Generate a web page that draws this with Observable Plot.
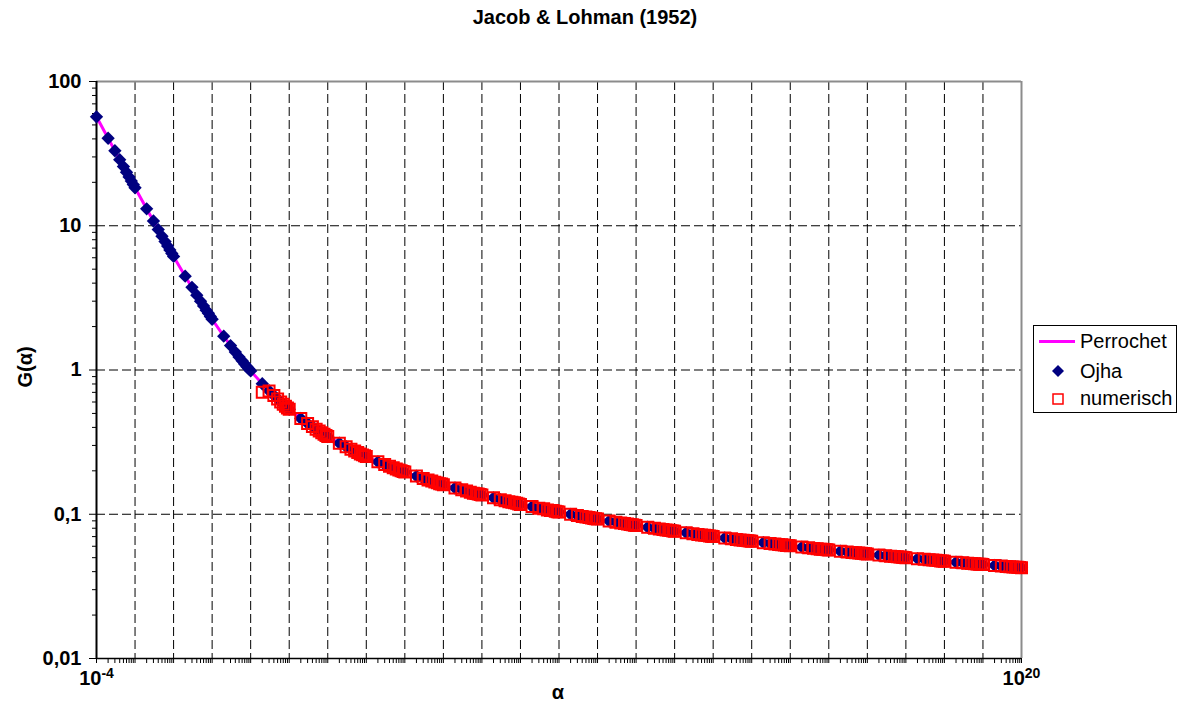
<!DOCTYPE html>
<html>
<head>
<meta charset="utf-8">
<script src="https://cdn.jsdelivr.net/npm/d3@7"></script>
<script src="https://cdn.jsdelivr.net/npm/@observablehq/plot@0.6"></script>
<style>
  html, body { margin: 0; padding: 0; background: #fff; }
  svg { display: block; }
</style>
</head>
<body>
<div id="chart"></div>
<script>
// ---------- data ----------
const exponents = [-4,-3,-2,-1,0,1,2,3,4,5,6,7,8,9,10,11,12,13,14,15,16,17,18,19];
const mantissas = [1,2,3,4,5,6,7,8,9];

// G(alpha) of the Ojha points, one row per decade (alpha = mantissa * 10^exponent)
const ojhaRows = [
  [56.9, 40.4, 33.1, 28.7, 25.7, 23.5, 21.8, 20.4, 19.3],
  [18.34, 13.11, 10.79, 9.41, 8.47, 7.77, 7.23, 6.80, 6.43],
  [6.13, 4.47, 3.74, 3.30, 3.00, 2.78, 2.60, 2.47, 2.35],
  [2.249, 1.716, 1.476, 1.331, 1.229, 1.157, 1.100, 1.054, 1.017],
  [0.985, 0.803, 0.718, 0.666, 0.630, 0.602, 0.580, 0.562, 0.547],
  [0.534, 0.461, 0.426, 0.405, 0.389, 0.377, 0.367, 0.359, 0.352],
  [0.346, 0.311, 0.294, 0.282, 0.274, 0.268, 0.262, 0.258, 0.254],
  [0.251, 0.231, 0.221, 0.215, 0.210, 0.206, 0.203, 0.200, 0.198],
  [0.196, 0.184, 0.177, 0.173, 0.170, 0.167, 0.165, 0.163, 0.162],
  [0.160, 0.152, 0.148, 0.145, 0.142, 0.140, 0.139, 0.138, 0.137],
  [0.136, 0.130, 0.126, 0.124, 0.122, 0.121, 0.120, 0.119, 0.118],
  [0.117, 0.113, 0.110, 0.109, 0.107, 0.106, 0.106, 0.105, 0.104],
  [0.1035, 0.0999, 0.0980, 0.0966, 0.0956, 0.0948, 0.0941, 0.0935, 0.0930],
  [0.0926, 0.0897, 0.0881, 0.0870, 0.0862, 0.0855, 0.0849, 0.0845, 0.0840],
  [0.0837, 0.0813, 0.0800, 0.0791, 0.0784, 0.0778, 0.0774, 0.0770, 0.0766],
  [0.0763, 0.0744, 0.0733, 0.0725, 0.0719, 0.0715, 0.0711, 0.0707, 0.0704],
  [0.0702, 0.0685, 0.0676, 0.0669, 0.0664, 0.0660, 0.0657, 0.0654, 0.0652],
  [0.0649, 0.0635, 0.0627, 0.0622, 0.0617, 0.0614, 0.0611, 0.0608, 0.0606],
  [0.0604, 0.0592, 0.0585, 0.0580, 0.0576, 0.0573, 0.0571, 0.0569, 0.0567],
  [0.0565, 0.0554, 0.0548, 0.0544, 0.0540, 0.0538, 0.0536, 0.0534, 0.0532],
  [0.0531, 0.0521, 0.0516, 0.0512, 0.0509, 0.0507, 0.0505, 0.0503, 0.0501],
  [0.0500, 0.0492, 0.0487, 0.0483, 0.0481, 0.0479, 0.0477, 0.0475, 0.0474],
  [0.0473, 0.0465, 0.0461, 0.0458, 0.0455, 0.0454, 0.0452, 0.0451, 0.0450],
  [0.0448, 0.0442, 0.0438, 0.0435, 0.0433, 0.0431, 0.0430, 0.0429, 0.0427]
];
const lastAlpha = 1e20;
const ojhaLast = 0.0426;

// numerical results start at alpha = 2; first decade differs slightly, then coincides with Ojha
const numerischFirstRow = [null, 0.700, 0.716, 0.665, 0.629, 0.601, 0.579, 0.561, 0.546];
const numerischStartExp = 0;
const numerischLast = 0.0426;

// Perrochet analytic curve follows the same values
const perrochetRows = ojhaRows;
const perrochetLast = ojhaLast;

// axis ticks
const xMajorExps = [-4,-3,-2,-1,0,1,2,3,4,5,6,7,8,9,10,11,12,13,14,15,16,17,18,19,20];
const xLabelExps = [-4, 20];
const yMajor = [0.01, 0.1, 1, 10, 100];
const yTickLabels = ["0,01", "0,1", "1", "10", "100"];
const yMinorExps = [-2, -1, 0, 1];
const minorMantissas = [2,3,4,5,6,7,8,9];

// ---------- build tables ----------
function rowsToPoints(rows, exps) {
  const out = [];
  exps.forEach((e, i) => mantissas.forEach((m, j) => {
    const g = rows[i][j];
    if (g != null) out.push({a: m * Math.pow(10, e), g});
  }));
  return out;
}
const ojha = rowsToPoints(ojhaRows, exponents).concat([{a: lastAlpha, g: ojhaLast}]);
const perrochet = rowsToPoints(perrochetRows, exponents).concat([{a: lastAlpha, g: perrochetLast}]);
const numExps = exponents.filter(e => e >= numerischStartExp);
const numRows = [numerischFirstRow].concat(ojhaRows.slice(exponents.indexOf(numerischStartExp) + 1));
const numerisch = rowsToPoints(numRows, numExps).concat([{a: lastAlpha, g: numerischLast}]);

const xMajor = xMajorExps.map(e => Math.pow(10, e));
const xMinor = exponents.flatMap(e => minorMantissas.map(m => m * Math.pow(10, e)));
const yMinor = yMinorExps.flatMap(e => minorMantissas.map(m => m * Math.pow(10, e)));
const xLabelTicks = xLabelExps.map(e => Math.pow(10, e));

const FONT = "'Liberation Sans', Arial, Helvetica, sans-serif";

const chart = Plot.plot({
  width: 1182,
  height: 707,
  marginLeft: 96,
  marginRight: 161,
  marginTop: 81,
  marginBottom: 49,
  style: {fontFamily: FONT, fontSize: "20px", fontWeight: "bold", color: "#000", background: "#fff"},
  x: {type: "log", domain: [1e-4, 1e20]},
  y: {type: "log", domain: [0.01, 100]},
  marks: [
    Plot.gridX(xMajor, {stroke: "#000", strokeOpacity: 1, strokeWidth: 1, strokeDasharray: "9,4"}),
    Plot.gridY(yMajor, {stroke: "#000", strokeOpacity: 1, strokeWidth: 1, strokeDasharray: "9,4"}),
    Plot.ruleY([100], {stroke: "#8c8c8c", strokeWidth: 2}),
    Plot.ruleX([1e20], {stroke: "#8c8c8c", strokeWidth: 2}),
    Plot.ruleX([1e-4], {stroke: "#000", strokeWidth: 2}),
    Plot.ruleY([0.01], {stroke: "#000", strokeWidth: 1.5}),
    Plot.axisY(yMinor, {tickSize: 4, tickFormat: () => "", label: null}),
    Plot.axisY(yMajor, {tickSize: 7, tickPadding: 8, label: null,
      tickFormat: d => yTickLabels[yMajor.indexOf(d)], fontSize: 20, fontWeight: "bold"}),
    Plot.axisX(xMinor, {tickSize: 5, tickFormat: () => "", label: null}),
    Plot.axisX(xMajor, {tickSize: 5, tickFormat: () => "", label: null}),
    Plot.axisX(xLabelTicks, {tickSize: 0, tickPadding: 12, label: null,
      tickFormat: d => "10^" + xLabelExps[xLabelTicks.indexOf(d)], fontSize: 20, fontWeight: "bold"}),
    Plot.line(perrochet, {x: "a", y: "g", stroke: "#ff00ff", strokeWidth: 3}),
    Plot.dot(ojha, {x: "a", y: "g", symbol: "diamond2", r: 6, fill: "#000080", stroke: "none"}),
    Plot.dot(numerisch, {x: "a", y: "g", symbol: "square", r: 6.2, fill: "none", stroke: "#ff0000", strokeWidth: 2})
  ]
});

document.getElementById("chart").appendChild(chart);

const svg = d3.select(chart);

// superscript tick labels
svg.selectAll("text").each(function() {
  const t = this.textContent;
  const m = /^10\^(-?\d+)$/.exec(t);
  if (m) {
    const el = d3.select(this);
    el.text(null);
    el.append("tspan").text("10");
    el.append("tspan").attr("dy", "-0.5em").attr("font-size", 14).text(m[1]);
  }
});

// title & axis labels
svg.append("text").attr("x", 585).attr("y", 24).attr("text-anchor", "middle")
  .attr("font-family", FONT).attr("font-size", 20).attr("font-weight", "bold").text("Jacob & Lohman (1952)");
svg.append("text").attr("x", 558).attr("y", 699).attr("text-anchor", "middle")
  .attr("font-family", FONT).attr("font-size", 20).attr("font-weight", "bold").text("α");
svg.append("text").attr("transform", "translate(32,367) rotate(-90)").attr("text-anchor", "middle")
  .attr("font-family", FONT).attr("font-size", 20).attr("font-weight", "bold").text("G(α)");

// legend
const lg = svg.append("g").attr("font-family", FONT).attr("font-size", 20)
  .attr("font-weight", "normal").attr("text-anchor", "start");
lg.append("rect").attr("x", 1033.5).attr("y", 325.5).attr("width", 143).attr("height", 87)
  .attr("fill", "#fff").attr("stroke", "#000").attr("stroke-width", 1);
lg.append("line").attr("x1", 1039).attr("x2", 1075).attr("y1", 341.5).attr("y2", 341.5)
  .attr("stroke", "#ff00ff").attr("stroke-width", 3);
lg.append("path").attr("d", "M1058,365L1064,371L1058,377L1052,371Z").attr("fill", "#000080");
lg.append("rect").attr("x", 1053).attr("y", 394).attr("width", 10).attr("height", 10)
  .attr("fill", "none").attr("stroke", "#ff0000").attr("stroke-width", 1.5);
const legendNames = ["Perrochet", "Ojha", "numerisch"];
const legendBaselines = [348, 378, 405];
legendNames.forEach((n, i) => lg.append("text").attr("x", 1080).attr("y", legendBaselines[i])
  .attr("text-anchor", "start").attr("fill", "#000").text(n));
</script>
</body>
</html>
